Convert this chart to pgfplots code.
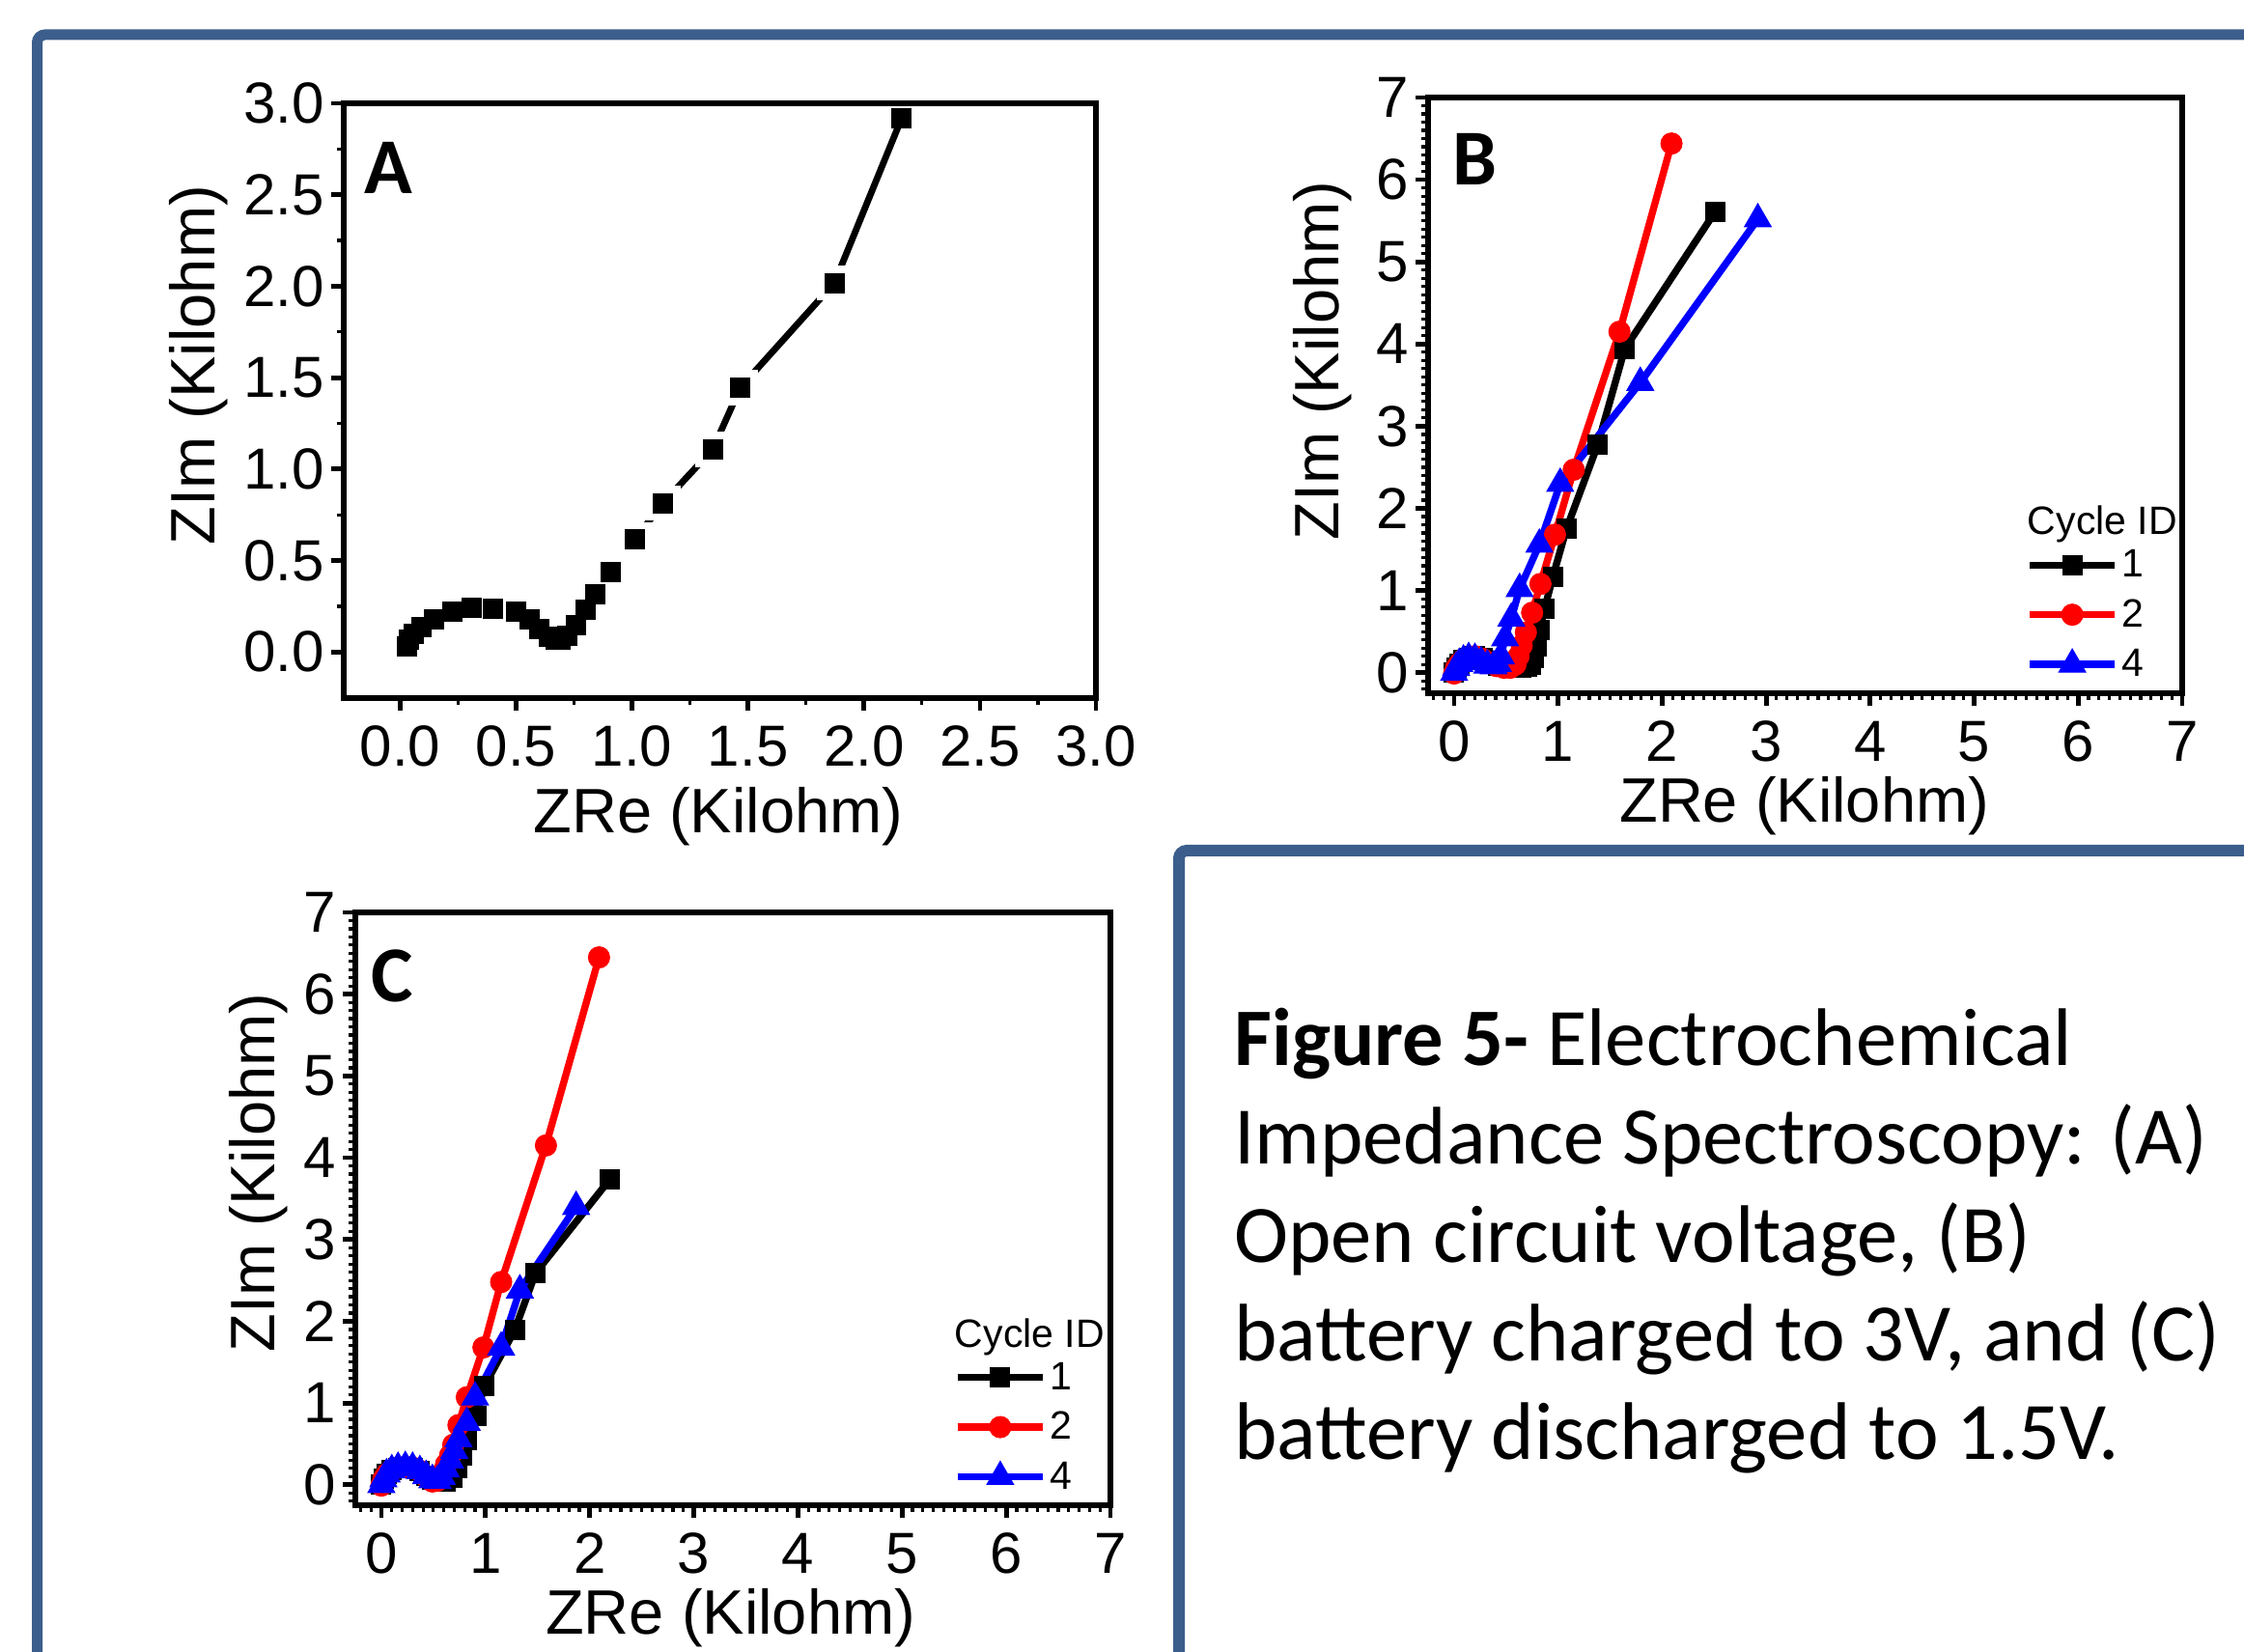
\documentclass[border=0pt]{standalone}
\usepackage{fontspec}
\setmainfont{Liberation Sans}
\newfontfamily\calibri{Carlito}
\usepackage{pgfplots}
\usepackage{pgfplotstable}
\pgfplotsset{compat=1.18}

\definecolor{frameblue}{RGB}{59,94,140}

% panel A: open circuit voltage
\pgfplotstableread{
x y
0.028 0.030
0.040 0.066
0.060 0.100
0.093 0.137
0.148 0.177
0.224 0.220
0.310 0.243
0.400 0.238
0.500 0.220
0.560 0.177
0.600 0.125
0.643 0.083
0.670 0.066
0.690 0.066
0.720 0.090
0.757 0.144
0.800 0.230
0.840 0.318
0.909 0.439
1.013 0.616
1.133 0.814
1.348 1.108
1.467 1.446
1.872 2.017
2.163 2.920
}\dataA

% panel B: charged to 3V
\pgfplotstableread{
x y
0.00 0.00
0.02 0.06
0.05 0.11
0.09 0.15
0.14 0.18
0.20 0.20
0.27 0.18
0.34 0.13
0.42 0.09
0.50 0.07
0.58 0.06
0.65 0.06
0.70 0.07
0.74 0.10
0.77 0.18
0.79 0.32
0.82 0.52
0.87 0.78
0.95 1.17
1.08 1.75
1.38 2.77
1.64 3.94
2.51 5.61
}\dataBone
\pgfplotstableread{
x y
0.00 -0.01
0.02 0.06
0.05 0.11
0.09 0.16
0.14 0.19
0.20 0.20
0.27 0.17
0.34 0.12
0.41 0.08
0.48 0.06
0.54 0.06
0.59 0.10
0.62 0.20
0.65 0.33
0.69 0.49
0.75 0.73
0.83 1.08
0.97 1.68
1.15 2.47
1.59 4.15
2.09 6.44
}\dataBtwo
\pgfplotstableread{
x y
0.00 0.00
0.02 0.06
0.05 0.11
0.09 0.15
0.14 0.18
0.20 0.17
0.26 0.13
0.32 0.09
0.38 0.08
0.42 0.11
0.45 0.20
0.49 0.42
0.55 0.66
0.63 1.02
0.82 1.56
1.02 2.30
1.79 3.53
2.92 5.52
}\dataBfour

% panel C: discharged to 1.5V
\pgfplotstableread{
x y
0.00 0.00
0.02 0.07
0.05 0.13
0.10 0.18
0.16 0.21
0.23 0.22
0.30 0.21
0.37 0.17
0.43 0.11
0.49 0.06
0.55 0.04
0.62 0.04
0.68 0.09
0.73 0.21
0.77 0.36
0.82 0.55
0.91 0.84
0.99 1.21
1.28 1.89
1.48 2.59
2.19 3.73
}\dataCone
\pgfplotstableread{
x y
0.00 -0.01
0.02 0.07
0.05 0.13
0.10 0.18
0.16 0.21
0.23 0.22
0.30 0.21
0.37 0.17
0.43 0.10
0.49 0.04
0.54 0.05
0.58 0.14
0.62 0.25
0.66 0.36
0.69 0.49
0.74 0.73
0.82 1.07
0.98 1.68
1.15 2.48
1.58 4.15
2.09 6.45
}\dataCtwo
\pgfplotstableread{
x y
0.00 0.00
0.02 0.07
0.05 0.13
0.10 0.18
0.16 0.21
0.23 0.22
0.30 0.21
0.37 0.17
0.43 0.11
0.49 0.06
0.54 0.05
0.58 0.10
0.62 0.19
0.66 0.30
0.70 0.42
0.74 0.56
0.82 0.76
0.90 1.07
1.15 1.68
1.33 2.38
1.87 3.40
}\dataCfour

\newcommand\tickfont{\fontsize{30}{32}\selectfont}
\newcommand\labfont{\fontsize{32.5}{34}\selectfont}
\newcommand\legfont{\fontsize{20.5}{22}\selectfont}
\newcommand\letterfont{\calibri\bfseries\fontsize{41}{44}\selectfont}
\newcommand\capfont{\calibri\fontsize{42.3}{51}\selectfont}

\pgfplotsset{
  eis/.style={
    scale only axis,
    axis on top,
    axis line style={line width=2.8pt},
    every outer x axis line/.append style={line width=2.8pt},
    every outer y axis line/.append style={line width=2.8pt},
    tick align=outside,
    xtick pos=left, ytick pos=left,
    major tick length=6.5pt,
    minor tick length=3.5pt,
    every major tick/.append style={line width=2.4pt, black},
    every minor tick/.append style={line width=1.6pt, black},
    tick label style={font=\tickfont},
    xticklabel style={yshift=-4.5pt},
    label style={font=\labfont},
    /pgf/number format/assume math mode=true,
    xlabel={ZRe (Kilohm)},
    ylabel={ZIm (Kilohm)},
  },
  eis7/.style={
    eis,
    xmin=-0.25, xmax=7, ymin=-0.25, ymax=7,
    xtick={-1,0,...,7}, ytick={-1,0,...,7},
    minor tick num=9,
    legend style={at={(axis description cs:0.7926,0.1318)}, anchor=west,
      draw=none, fill=none, inner sep=0pt, font=\legfont,
      row sep=6pt, nodes={inner sep=2pt}},
    legend cell align=left,
    legend image code/.code={\draw[mark repeat=2,mark phase=2,##1]
      plot coordinates {(0pt,0pt) (22pt,0pt) (44pt,0pt)};},
  },
  s1/.style={black, line width=3.7pt, mark=square*, mark size=5pt, mark options={solid, line width=0.5pt}},
  s2/.style={red, line width=3.7pt, mark=*, mark size=5.5pt, mark options={solid, line width=0.5pt}},
  s4/.style={blue, line width=3.7pt, mark=triangle*, mark size=8pt, mark options={solid, line width=0.5pt}},
}

\begin{document}
\begin{tikzpicture}
\useasboundingbox (0,0) rectangle (1162pt,855pt);
\clip (0,0) rectangle (1162pt,855pt);

% blue frames
\draw[frameblue, line width=5.5pt, rounded corners=4pt] (19.25pt,-20pt) -- (19.25pt,837pt) -- (1200pt,837pt);
\draw[frameblue, line width=6pt, rounded corners=4pt] (610.5pt,-20pt) -- (610.5pt,414.5pt) -- (1200pt,414.5pt);

% A
\begin{axis}[eis, at={(178pt,493.5pt)}, anchor=south west,
  width=389.5pt, height=308pt,
  xmin=-0.243, xmax=3, ymin=-0.252, ymax=3,
  xtick={0,0.5,...,3}, ytick={0,0.5,...,3}, minor tick num=1,
  xticklabel style={/pgf/number format/.cd, fixed, fixed zerofill, precision=1},
  yticklabel style={/pgf/number format/.cd, fixed, fixed zerofill, precision=1},
  xlabel style={at={(axis description cs:0.498,-0.227)}, anchor=base},
  ylabel style={at={(axis description cs:-0.171,0.56)}, anchor=base},
]
\addplot[black, line width=3.4pt] table {\dataA};
% white gaps round the symbols, as in the original
\addplot[only marks, mark=square*, mark size=8.8pt, white, skip coords between index={24}{25}] table {\dataA};
\addplot[only marks, mark=square*, mark size=5pt, black, mark options={line width=0.5pt}] table {\dataA};
\node[anchor=base west, font=\letterfont] at (rel axis cs:0.018,0.848) {A};
\end{axis}

% B
\begin{axis}[eis7, at={(739.5pt,496pt)}, anchor=south west,
  width=390.5pt, height=308.5pt,
  xlabel style={at={(axis description cs:0.499,-0.217)}, anchor=base},
  ylabel style={at={(axis description cs:-0.118,0.558)}, anchor=base},
]
\addplot[s1] table {\dataBone};
\addlegendentry{1}
\addplot[s2] table {\dataBtwo};
\addlegendentry{2}
\addplot[s4] table {\dataBfour};
\addlegendentry{4}
\node[anchor=base west, font=\letterfont] at (rel axis cs:0.024,0.853) {B};
\node[anchor=base west, font=\legfont] at (axis description cs:0.786,0.2674) {Cycle ID};
\end{axis}

% C
\begin{axis}[eis7, at={(184pt,75.5pt)}, anchor=south west,
  width=391pt, height=307pt,
  xlabel style={at={(axis description cs:0.497,-0.218)}, anchor=base},
  ylabel style={at={(axis description cs:-0.107,0.561)}, anchor=base},
]
\addplot[s1] table {\dataCone};
\addlegendentry{1}
\addplot[s2] table {\dataCtwo};
\addlegendentry{2}
\addplot[s4] table {\dataCfour};
\addlegendentry{4}
\node[anchor=base west, font=\letterfont] at (rel axis cs:0.012,0.85) {C};
\node[anchor=base west, font=\legfont] at (axis description cs:0.785,0.267) {Cycle ID};
\end{axis}

% caption
\node[anchor=base west, font=\capfont, inner sep=0pt] at (639pt,303pt) {\textbf{Figure 5-} Electrochemical};
\node[anchor=base west, font=\capfont, inner sep=0pt] at (639pt,252.5pt) {Impedance Spectroscopy: (A)};
\node[anchor=base west, font=\capfont, inner sep=0pt] at (639pt,201.5pt) {Open circuit voltage, (B)};
\node[anchor=base west, font=\capfont, inner sep=0pt] at (639pt,150.5pt) {battery charged to 3V, and (C)};
\node[anchor=base west, font=\capfont, inner sep=0pt] at (639pt,99.5pt) {battery discharged to 1.5V.};
\end{tikzpicture}
\end{document}
